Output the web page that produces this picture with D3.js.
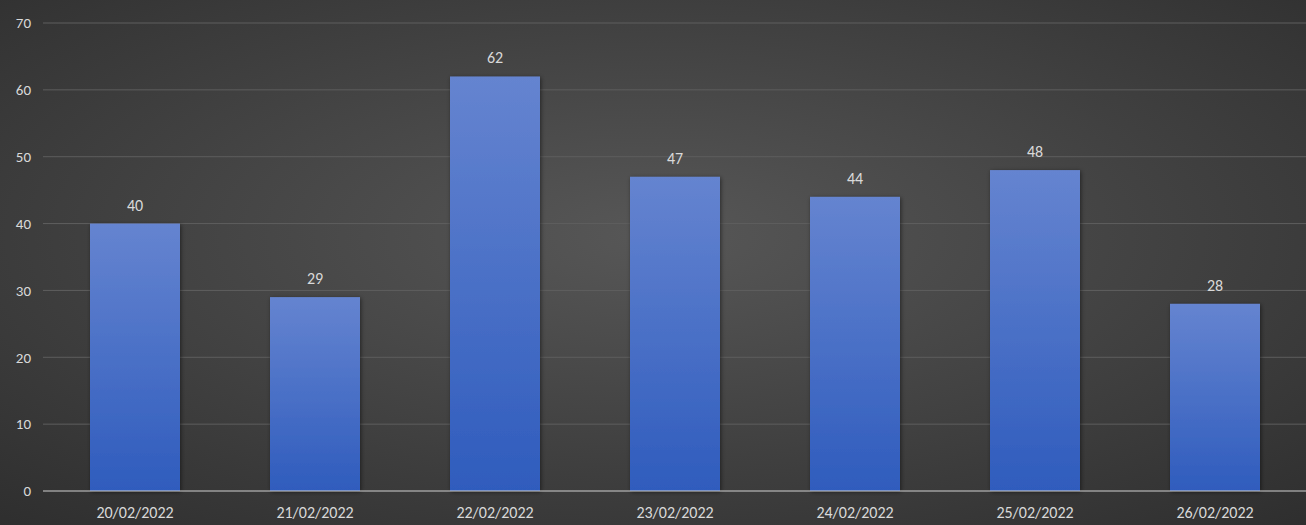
<!DOCTYPE html>
<html><head><meta charset="utf-8">
<script src="https://cdn.jsdelivr.net/npm/d3@7"></script>
<style>body{margin:0;background:#3a3a3a}svg{display:block}</style>
</head><body><div id="chart"></div>
<script>
var dates=['20/02/2022','21/02/2022','22/02/2022','23/02/2022','24/02/2022','25/02/2022','26/02/2022'];
var values=[40,29,62,47,44,48,28];
var yTicks=[0,10,20,30,40,50,60,70];

var W=1306,H=525,m={l:45,r:1,t:23,b:34};
var svg=d3.select('#chart').append('svg').attr('width',W).attr('height',H);
var defs=svg.append('defs');
var bg=defs.append('radialGradient').attr('id','bg').attr('cx','50%').attr('cy','45%').attr('r','75%');
bg.append('stop').attr('offset','0%').attr('stop-color','#575757');
bg.append('stop').attr('offset','100%').attr('stop-color','#2e2e2e');
var bar=defs.append('linearGradient').attr('id','bar').attr('x1',0).attr('y1',0).attr('x2',0).attr('y2',1);
bar.append('stop').attr('offset','0%').attr('stop-color','#6584d0');
bar.append('stop').attr('offset','100%').attr('stop-color','#2f5cbd');
var sh=defs.append('filter').attr('id','sh').attr('x','-20%').attr('y','-20%').attr('width','140%').attr('height','140%');
sh.append('feDropShadow').attr('dx',1).attr('dy',1).attr('stdDeviation',2).attr('flood-color','#000').attr('flood-opacity',0.5);

svg.append('rect').attr('width',W).attr('height',H).attr('fill','url(#bg)');

var x=d3.scaleBand().domain(dates).range([m.l,W-m.r]).paddingInner(0.5).paddingOuter(0.25);
var y=d3.scaleLinear().domain([0,70]).range([H-m.b,m.t]);
var F='Carlito,Lato,"Open Sans",sans-serif';

svg.append('g').selectAll('line').data(yTicks.slice(1)).join('line')
  .attr('x1',43).attr('x2',W).attr('y1',function(d){return y(d)}).attr('y2',function(d){return y(d)})
  .attr('stroke','#5e5e5e').attr('stroke-width',1);

var ya=svg.append('g').attr('transform','translate(43,0)').call(d3.axisLeft(y).tickValues(yTicks).tickSize(0).tickPadding(12));
ya.select('.domain').remove();
ya.selectAll('text').attr('fill','#d9d9d9').attr('font-size',15).attr('font-family',F);

svg.append('g').selectAll('rect').data(values).join('rect')
  .attr('x',function(d,i){return x(dates[i])}).attr('width',x.bandwidth())
  .attr('y',function(d){return y(d)}).attr('height',function(d){return y(0)-y(d)})
  .attr('fill','url(#bar)').attr('filter','url(#sh)');

svg.append('g').selectAll('text').data(values).join('text')
  .attr('x',function(d,i){return x(dates[i])+x.bandwidth()/2}).attr('y',function(d){return y(d)-13})
  .attr('text-anchor','middle').attr('fill','#d9d9d9').attr('font-size',16).attr('font-family',F).text(function(d){return d});

var xa=svg.append('g').attr('transform','translate(0,'+y(0)+')').call(d3.axisBottom(x).tickSize(0).tickPadding(16));
xa.select('.domain').attr('stroke','#d0d0d0').attr('d','M43,0H'+W);
xa.selectAll('text').attr('fill','#d9d9d9').attr('font-size',16).attr('font-family',F);
</script></body></html>
